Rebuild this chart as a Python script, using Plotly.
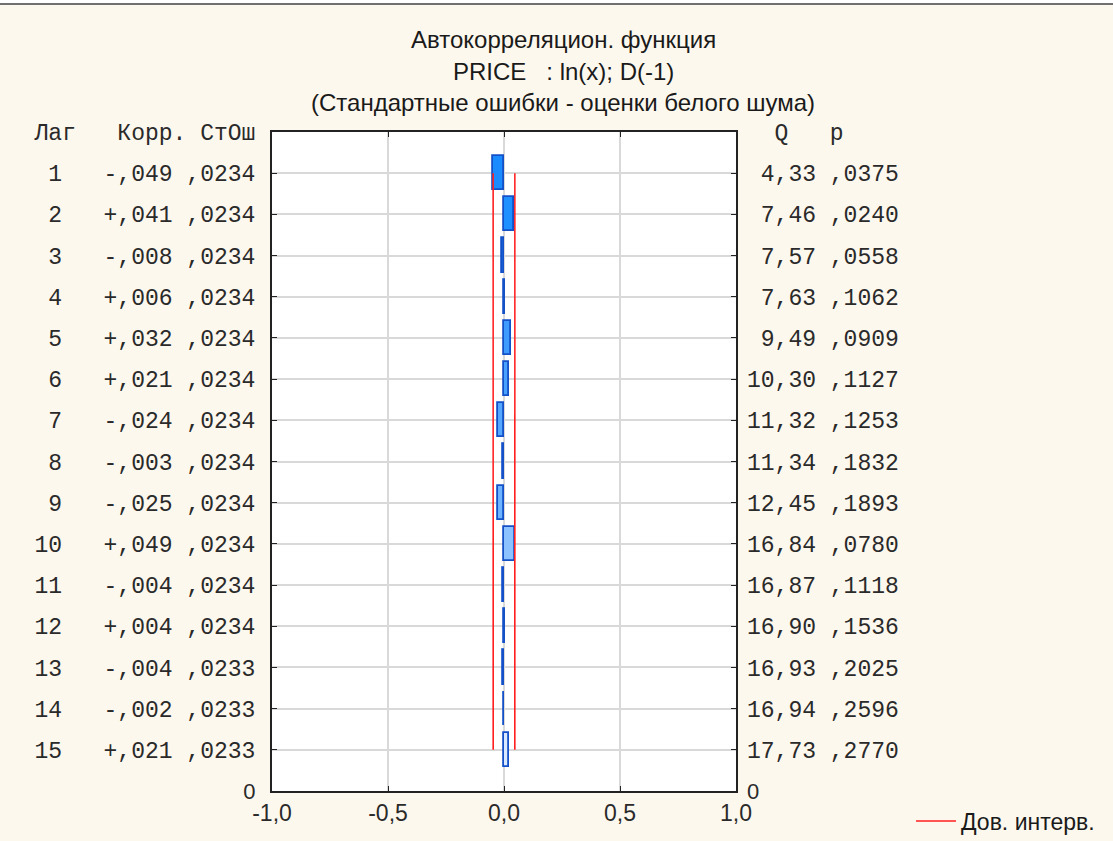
import plotly.graph_objects as go

# ---------------- data ----------------
lags = list(range(1, 16))
corr = [-0.049, 0.041, -0.008, 0.006, 0.032, 0.021, -0.024, -0.003, -0.025, 0.049,
        -0.004, 0.004, -0.004, -0.002, 0.021]
corr_txt = ["-,049", "+,041", "-,008", "+,006", "+,032", "+,021", "-,024", "-,003", "-,025",
            "+,049", "-,004", "+,004", "-,004", "-,002", "+,021"]
se = [0.0234] * 12 + [0.0233] * 3
se_txt = [",0234"] * 12 + [",0233"] * 3
q_txt = ["4,33", "7,46", "7,57", "7,63", "9,49", "10,30", "11,32", "11,34", "12,45",
         "16,84", "16,87", "16,90", "16,93", "16,94", "17,73"]
p_txt = [",0375", ",0240", ",0558", ",1062", ",0909", ",1127", ",1253", ",1832", ",1893",
         ",0780", ",1118", ",1536", ",2025", ",2596", ",2770"]
x_ticks = [-1.0, -0.5, 0.0, 0.5, 1.0]
x_ticktext = ["-1,0", "-0,5", "0,0", "0,5", "1,0"]
title_lines = ["Автокорреляцион. функция", "PRICE   : ln(x); D(-1)",
               "(Стандартные ошибки - оценки белого шума)"]
left_header = "Лаг   Корр. СтОш"
right_header = "  Q   p"
legend_name = "Дов. интерв."

# ---------------- styles ----------------
NB = "\u00a0"
bar_colors = ["#1a8cff", "#1e90ff", "#2893ff", "#3298ff", "#3e9cff", "#4aa2ff", "#56a7ff",
              "#62adff", "#70b3ff", "#8cc2ff", "#9ac9ff", "#a8d0ff", "#b8d9ff", "#c8e1ff",
              "#dae9ff"]
MONO = "Liberation Mono, Courier New, monospace"
SANS = "Liberation Sans, Arial, sans-serif"
TXT = "#2a2a2a"

nlag = len(lags)
top = nlag + 1
pos = [top - k for k in lags]          # vertical position of each lag (lag 1 at top)

zero_lbl = '<span style="font-family:Liberation Sans;font-size:22px">0</span>'
left_vals = [top] + pos + [0]
left_text = [left_header.replace(" ", NB)] + [
    (f"{k:>2}   {c} {s}").replace(" ", NB) for k, c, s in zip(lags, corr_txt, se_txt)
] + [zero_lbl]
right_text = [right_header.replace(" ", NB)] + [
    (f"{q:>5} {p}").replace(" ", NB) for q, p in zip(q_txt, p_txt)
] + [zero_lbl]

fig = go.Figure()

fig.add_trace(go.Bar(
    x=corr, y=pos, orientation="h", width=0.83,
    marker=dict(color=bar_colors, line=dict(color="#1450c8", width=1.8)),
    showlegend=False, yaxis="y", xaxis="x",
))

lo = [-2 * s for s in se]
hi = [2 * s for s in se]
fig.add_trace(go.Scatter(x=lo, y=pos, mode="lines", line=dict(color="#ff2020", width=1.6),
                         name=legend_name, showlegend=True, yaxis="y2"))
fig.add_trace(go.Scatter(x=hi, y=pos, mode="lines", line=dict(color="#ff2020", width=1.6),
                         name=legend_name, showlegend=False, yaxis="y2"))

W, H = 1113, 841
L, R, T, B = 272, 736, 132, 791
pw, ph = R - L, B - T


def px_x(x):
    return (x - L) / pw


def px_y(y):
    return (B - y) / ph


annotations = []
for line, yy in zip(title_lines, [40, 71, 102]):
    annotations.append(dict(text=line, x=px_x(563), y=px_y(yy), xref="paper",
                            yref="paper", xanchor="center", yanchor="middle",
                            showarrow=False,
                            font=dict(family=SANS, size=24, color="#1a1a1a")))

fig.update_layout(
    width=W, height=H,
    margin=dict(l=L, r=W - R, t=T, b=H - B, pad=0, autoexpand=False),
    paper_bgcolor="#fdf8ee", plot_bgcolor="#ffffff",
    bargap=0,
    xaxis=dict(range=[-1, 1], tickvals=x_ticks, ticktext=x_ticktext, showgrid=True,
               gridcolor="#d9d9d9", gridwidth=1.5, zeroline=False, showline=True,
               linecolor="#222222", linewidth=2, mirror="ticks", ticks="inside",
               ticklen=5, tickcolor="#222222", automargin=False,
               tickfont=dict(family=SANS, size=23, color=TXT)),
    yaxis=dict(range=[0, top], tickvals=left_vals, ticktext=left_text, showgrid=True,
               gridcolor="#d9d9d9", gridwidth=1.5, zeroline=False, showline=True,
               linecolor="#222222", linewidth=2, mirror=True, ticks="inside",
               ticklen=5, tickcolor="#222222", ticklabelstandoff=10, automargin=False,
               tickfont=dict(family=MONO, size=23, color=TXT)),
    yaxis2=dict(range=[0, top], overlaying="y", side="right", tickvals=left_vals,
                ticktext=right_text, showgrid=False, zeroline=False, showline=False,
                ticks="inside", ticklen=5, tickcolor="#222222", ticklabelstandoff=10,
                automargin=False,
                tickfont=dict(family=MONO, size=23, color=TXT)),
    legend=dict(x=911 / W, y=1 - 821 / H, xref="container", yref="container",
                xanchor="left", yanchor="middle",
                itemwidth=40, bgcolor="rgba(0,0,0,0)",
                font=dict(family=SANS, size=23, color="#1a1a1a")),
    annotations=annotations,
    shapes=[dict(type="rect", xref="paper", yref="paper", x0=px_x(0), x1=px_x(W),
                 y0=px_y(4), y1=px_y(0), fillcolor="#ffffff", line=dict(width=0), layer="below"),
            dict(type="line", xref="paper", yref="paper", x0=px_x(0), x1=px_x(W),
                 y0=px_y(4), y1=px_y(4), line=dict(color="#707070", width=2))],
)

fig.write_html("out.html")
